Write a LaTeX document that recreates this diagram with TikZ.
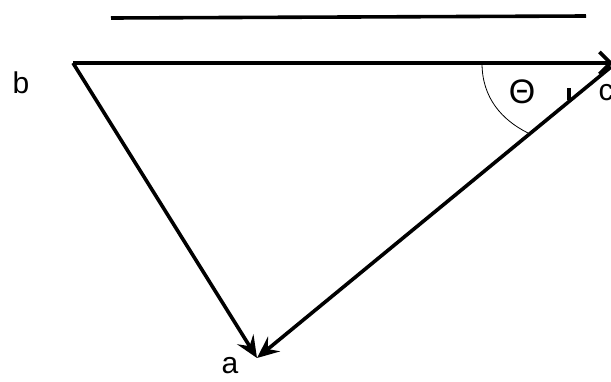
\documentclass[tikz,border=0pt]{standalone}
\usepackage{fontspec}
\setmainfont{Liberation Sans}
\usetikzlibrary{arrows.meta}
\begin{document}
\begin{tikzpicture}[x=1pt,y=-1pt,
  vec/.style={line width=3.6pt},
  lbl/.style={font=\fontsize{30}{34}\selectfont, inner sep=0pt}]
\useasboundingbox (0,0) rectangle (611,381);
\coordinate (t1) at (111,18);
\coordinate (t2) at (586,16);
\coordinate (b) at (73,63);
\coordinate (c) at (613,63);
\coordinate (c2) at (611,67);
\coordinate (a) at (257,358);
\coordinate (arcs) at (482,63);
\coordinate (arce) at (528,133);
\coordinate (tk1) at (569,88);
\coordinate (tk2) at (569,100);
\draw[vec] (t1) -- (t2);
\draw[vec, -{Straight Barb[length=11pt,width=22pt,line width=3.6pt]}] (b) -- (c);
\draw[vec, -{Stealth[length=22pt,width=19pt,inset=8pt]}] (b) -- (a);
\draw[vec, -{Stealth[length=22pt,width=19pt,inset=8pt]}] (c2) -- (a);
\draw[line width=0.8pt] (arcs) .. controls (482,98) and (502,120) .. (arce);
\draw[line width=4.5pt] (tk1) -- (tk2);
\node[lbl] (lb) at (21,83) {b};
\node[lbl] (lc) at (606,93) {c};
\node[lbl] (la) at (230,366) {a};
\node[lbl, font=\fontsize{34}{38}\selectfont] (lth) at (522,92) {Θ};
\end{tikzpicture}
\end{document}
